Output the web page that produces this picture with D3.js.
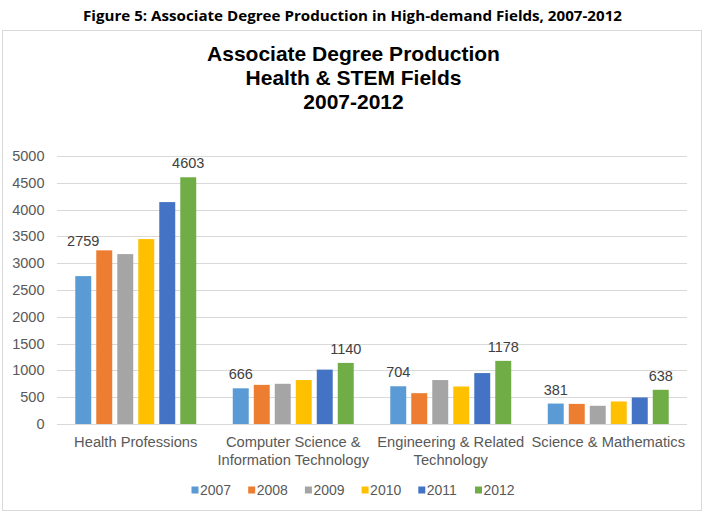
<!DOCTYPE html>
<html lang="en">
<head>
<meta charset="utf-8">
<title>Associate Degree Production</title>
<script src="https://cdn.jsdelivr.net/npm/d3@7"></script>
<style>
 body { margin: 0; background: #fff; }
 text { font-family: "Liberation Sans", Arial, sans-serif; }
</style>
</head>
<body>
<script>

 //Data
 const categories = ['Health Professions',
                     'Computer Science &\nInformation Technology',
                     'Engineering & Related\nTechnology',
                     'Science & Mathematics'];
 const years = ['2007', '2008', '2009', '2010', '2011', '2012'];
 const values = {
     '2007': [2759, 666, 704, 381],
     '2008': [3240, 730, 575, 375],
     '2009': [3170, 750, 820, 340],
     '2010': [3450, 820, 700, 420],
     '2011': [4140, 1015, 950, 495],
     '2012': [4603, 1140, 1178, 638]
 };
 const yTicks = [0, 500, 1000, 1500, 2000, 2500, 3000, 3500, 4000, 4500, 5000];
 const labelledYears = ['2007', '2012'];
 const colors = ['#5b9bd5', '#ed7d31', '#a5a5a5', '#ffc000', '#4472c4', '#70ad47'];

 const rows = [];
 categories.forEach(function (c, i) {
     years.forEach(function (y) {
         rows.push({cat: c, year: y, value: values[y][i]});
     });
 });

 //Display specs
 const width = 706, height = 527;
 const plot = {left: 57, right: 687, top: 156, bottom: 424};

 const svg = d3.select('body').append('svg')
     .attr('width', width)
     .attr('height', height);

 //Figure caption
 svg.append('text')
     .attr('x', 352.5)
     .attr('y', 21)
     .attr('text-anchor', 'middle')
     .attr('textLength', 539)
     .attr('lengthAdjust', 'spacingAndGlyphs')
     .style('font-family', '"Open Sans", sans-serif')
     .style('font-weight', 'bold')
     .style('font-size', '15px')
     .text('Figure 5: Associate Degree Production in High-demand Fields, 2007-2012');

 //Chart border
 svg.append('rect')
     .attr('x', 2.5)
     .attr('y', 30.5)
     .attr('width', 699)
     .attr('height', 480)
     .style('fill', '#fff')
     .style('stroke', '#d9d9d9');

 //Chart title
 const title = ['Associate Degree Production', 'Health & STEM Fields', '2007-2012'];
 svg.selectAll('.title')
     .data(title)
     .enter()
     .append('text')
     .attr('class', 'title')
     .attr('x', 353.5)
     .attr('y', (d, i) => 61 + i * 24)
     .attr('text-anchor', 'middle')
     .style('font-weight', 'bold')
     .style('font-size', '21px')
     .style('fill', '#000')
     .text(d => d);

 //Scales
 const yScale = d3.scaleLinear()
     .domain([0, 5000])
     .range([plot.bottom, plot.top]);

 const x0 = d3.scaleBand()
     .domain(categories)
     .range([plot.left, plot.right]);

 const x1 = d3.scaleBand()
     .domain(years)
     .range([-63, 63])
     .paddingInner(0.24)
     .paddingOuter(0.12);

 const color = d3.scaleOrdinal().domain(years).range(colors);

 //Gridlines
 svg.append('g')
     .selectAll('line')
     .data(yTicks)
     .enter()
     .append('line')
     .attr('x1', plot.left)
     .attr('x2', plot.right)
     .attr('y1', d => Math.round(yScale(d)) + 0.5)
     .attr('y2', d => Math.round(yScale(d)) + 0.5)
     .style('stroke', '#d9d9d9')
     .style('stroke-width', 1);

 //Y axis labels
 svg.append('g')
     .selectAll('text')
     .data(yTicks)
     .enter()
     .append('text')
     .attr('x', 44.5)
     .attr('y', d => yScale(d))
     .attr('dy', '0.35em')
     .attr('text-anchor', 'end')
     .style('font-size', '14.5px')
     .style('fill', '#595959')
     .text(d => d);

 //Bars
 svg.append('g')
     .selectAll('rect')
     .data(rows)
     .enter()
     .append('rect')
     .attr('x', d => x0(d.cat) + x0.bandwidth() / 2 + x1(d.year))
     .attr('y', d => yScale(d.value))
     .attr('width', x1.bandwidth())
     .attr('height', d => yScale(0) - yScale(d.value))
     .style('fill', d => color(d.year));

 //Data labels, first and last year only
 svg.append('g')
     .selectAll('text')
     .data(rows.filter(d => labelledYears.includes(d.year)))
     .enter()
     .append('text')
     .attr('x', d => x0(d.cat) + x0.bandwidth() / 2 + x1(d.year) + x1.bandwidth() / 2)
     .attr('y', d => yScale(d.value) - 9)
     .attr('dy', d => (d.cat === categories[0] && d.year === '2007') ? -21 : 0)
     .attr('text-anchor', 'middle')
     .style('font-size', '14.5px')
     .style('fill', '#404040')
     .text(d => d.value);

 //Category labels
 const cats = svg.append('g')
     .selectAll('text')
     .data(categories)
     .enter()
     .append('text')
     .attr('text-anchor', 'middle')
     .style('font-size', '14.7px')
     .style('fill', '#595959');

 cats.selectAll('tspan')
     .data(d => d.split('\n').map(s => ({s: s, c: d})))
     .enter()
     .append('tspan')
     .attr('x', d => x0(d.c) + x0.bandwidth() / 2)
     .attr('y', (d, i) => 447 + i * 17.5)
     .text(d => d.s);

 //Legend
 const legendX = d3.scaleBand()
     .domain(years)
     .range([191.5, 191.5 + 6 * 56.7]);

 const legend = svg.append('g')
     .selectAll('g')
     .data(years)
     .enter()
     .append('g')
     .attr('transform', d => 'translate(' + legendX(d) + ',0)');

 legend.append('rect')
     .attr('x', 0)
     .attr('y', 486.5)
     .attr('width', 7)
     .attr('height', 7)
     .style('fill', d => color(d));

 legend.append('text')
     .attr('x', 8.5)
     .attr('y', 495)
     .style('font-size', '14px')
     .style('fill', '#595959')
     .text(d => d);

</script>
</body>
</html>
